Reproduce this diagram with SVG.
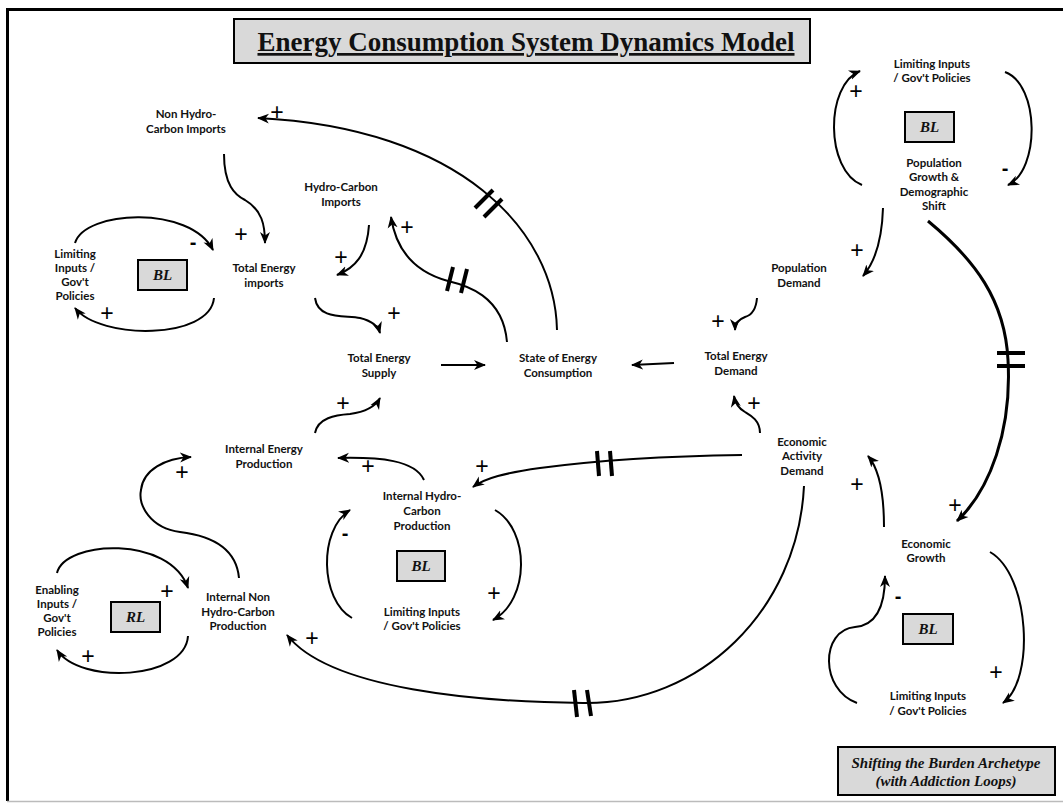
<svg xmlns="http://www.w3.org/2000/svg" width="1063" height="803" viewBox="0 0 1063 803">
  <style>
    .node { font-family: Lato, "Liberation Sans", sans-serif; font-weight: bold; font-size: 11.5px; fill: #111; text-anchor: middle; }
    .sign { font-family: "Liberation Sans", Arial, sans-serif; font-size: 23px; fill: #000; text-anchor: middle; }
    .neg { font-family: "Liberation Sans", Arial, sans-serif; font-weight: bold; font-size: 20px; fill: #000; text-anchor: middle; }
    .tag { fill: #d9d9d9; stroke: #000; stroke-width: 2; }
    .tagtext { font-family: "Liberation Serif", "Times New Roman", "DejaVu Serif", serif; font-style: italic; font-weight: bold; font-size: 15px; fill: #111; text-anchor: middle; }
    .title { font-family: "Liberation Serif", "Times New Roman", "DejaVu Serif", serif; font-weight: 700; font-style: normal; font-size: 27px; fill: #111; text-anchor: middle; text-decoration: underline; }
    .note { font-family: "Liberation Serif", "Times New Roman", "DejaVu Serif", serif; font-style: italic; font-weight: bold; font-size: 15px; fill: #111; text-anchor: middle; }
    .link { fill: none; stroke: #000; stroke-width: 2; marker-end: url(#arrow); }
    .heavy { fill: none; stroke: #000; stroke-width: 3; marker-end: url(#arrow); }
    .delay { stroke: #000; stroke-width: 4; stroke-linecap: butt; }
  </style>
  <defs>
    <marker id="arrow" markerUnits="userSpaceOnUse" markerWidth="12" markerHeight="12" viewBox="0 0 12 12" refX="11" refY="6" orient="auto">
      <path d="M0,1 L12,6 L0,11 L3.5,6 z" fill="#000"/>
    </marker>
  </defs>

  <rect width="1063" height="803" fill="#fff"/>
  <!-- page frame -->
  <line x1="7" y1="9.5" x2="1063" y2="9.5" stroke="#000" stroke-width="3"/>
  <line x1="7.5" y1="8" x2="7.5" y2="801" stroke="#000" stroke-width="3"/>
  <line x1="7" y1="801.5" x2="1063" y2="801.5" stroke="#bbb" stroke-width="1.5"/>

  <!-- title -->
  <g id="title">
    <rect x="234" y="19" width="576" height="44" class="tag"/>
    <text class="title" x="526" y="51">Energy Consumption System Dynamics Model</text>
  </g>

  <!-- connectors -->
  <g id="connectors">
    <path class="link" d="M557,330 C555,230 460,128 258,118"/>
    <path class="link" d="M507,342 C503,295 465,285 448,281 C415,272 396,250 391,217"/>
    <path class="link" d="M224,154 C224,185 235,195 245,200 C262,210 265,225 265,243"/>
    <path class="link" d="M369,225 C367,255 355,268 337,275"/>
    <path class="link" d="M315,298 C318,320 345,315 360,318 C372,321 378,326 380,333"/>
    <path class="link" d="M441,365 L485,365"/>
    <path class="link" d="M674,363 L632,365"/>
    <path class="link" d="M75,243 C85,210 190,205 213,250"/>
    <path class="link" d="M214,298 C210,340 100,340 75,308"/>
    <path class="link" d="M315,433 C318,418 335,415 350,414 C365,412 375,407 380,398"/>
    <path class="link" d="M424,480 C415,460 380,457 338,458"/>
    <path class="link" d="M742,455 C670,456 600,460 540,468 C505,473 485,478 473,487"/>
    <path class="link" d="M804,486 C798,610 700,705 583,703 C480,702 330,690 287,635"/>
    <path class="link" d="M239,578 C236,545 205,535 180,532 C150,528 138,505 141,490 C143,470 165,458 191,457"/>
    <path class="link" d="M57,573 C65,540 170,535 188,588"/>
    <path class="link" d="M188,636 C185,680 80,685 57,650"/>
    <path class="link" d="M352,618 C320,600 318,530 350,510"/>
    <path class="link" d="M495,510 C530,530 530,600 493,620"/>
    <path class="link" d="M884,527 C884,495 880,470 868,456"/>
    <path class="link" d="M760,433 C760,420 750,415 745,412 C738,408 735,402 734,396"/>
    <path class="link" d="M757,298 C756,310 752,315 745,317 C737,320 735,325 735,330"/>
    <path class="link" d="M883,208 C882,240 875,262 863,276"/>
    <path class="link" d="M862,185 C825,170 825,85 860,71"/>
    <path class="link" d="M1005,72 C1040,85 1040,170 1008,185"/>
    <path class="heavy" d="M928,221 C975,260 1005,300 1008,360 C1012,430 990,490 957,521"/>
    <path class="link" d="M990,552 C1030,575 1035,680 1003,703"/>
    <path class="link" d="M857,703 C820,690 820,630 855,627 C880,625 885,600 885,576"/>

    <!-- delay marks -->
    <line class="delay" x1="475" y1="208" x2="493" y2="190"/>
    <line class="delay" x1="484" y1="217" x2="502" y2="199"/>
    <line class="delay" x1="453" y1="267" x2="447" y2="291"/>
    <line class="delay" x1="467" y1="269" x2="461" y2="293"/>
    <line class="delay" x1="597" y1="451" x2="599" y2="476"/>
    <line class="delay" x1="610" y1="451" x2="612" y2="476"/>
    <line class="delay" x1="574" y1="690" x2="577" y2="717"/>
    <line class="delay" x1="587" y1="690" x2="591" y2="716"/>
    <line class="delay" x1="997" y1="353" x2="1025" y2="353"/>
    <line class="delay" x1="997" y1="366" x2="1025" y2="366"/>
  </g>

  <!-- polarity signs -->
  <g id="signs">
    <text class="sign" x="277" y="120">+</text>
    <text class="neg" x="193" y="249">-</text>
    <text class="sign" x="241" y="242">+</text>
    <text class="sign" x="107" y="321">+</text>
    <text class="sign" x="341" y="265">+</text>
    <text class="sign" x="407" y="235">+</text>
    <text class="sign" x="394" y="321">+</text>
    <text class="sign" x="343" y="411">+</text>
    <text class="sign" x="182" y="480">+</text>
    <text class="sign" x="368" y="474">+</text>
    <text class="sign" x="482" y="474">+</text>
    <text class="neg" x="345" y="540">-</text>
    <text class="sign" x="494" y="601">+</text>
    <text class="sign" x="167" y="599">+</text>
    <text class="sign" x="88" y="664">+</text>
    <text class="sign" x="312" y="646">+</text>
    <text class="sign" x="718" y="329">+</text>
    <text class="sign" x="754" y="411">+</text>
    <text class="sign" x="857" y="258">+</text>
    <text class="sign" x="856" y="99">+</text>
    <text class="neg" x="1005" y="175">-</text>
    <text class="sign" x="857" y="492">+</text>
    <text class="sign" x="955" y="513">+</text>
    <text class="neg" x="898" y="603">-</text>
    <text class="sign" x="996" y="680">+</text>
  </g>

  <!-- nodes -->
  <g id="non-hc-imports"><text class="node"><tspan x="186" y="118">Non Hydro-</tspan><tspan x="186" y="133">Carbon Imports</tspan></text></g>
  <g id="hc-imports"><text class="node"><tspan x="341" y="191">Hydro-Carbon</tspan><tspan x="341" y="206">Imports</tspan></text></g>
  <g id="limiting-imports"><text class="node"><tspan x="75" y="258">Limiting</tspan><tspan x="75" y="272">Inputs /</tspan><tspan x="75" y="286">Gov't</tspan><tspan x="75" y="300">Policies</tspan></text></g>
  <g id="bl-imports"><rect class="tag" x="138" y="260" width="49" height="30"/><text class="tagtext" x="162.5" y="280">BL</text></g>
  <g id="total-imports"><text class="node"><tspan x="264" y="272">Total Energy</tspan><tspan x="264" y="287">imports</tspan></text></g>
  <g id="total-supply"><text class="node"><tspan x="379" y="362">Total Energy</tspan><tspan x="379" y="377">Supply</tspan></text></g>
  <g id="state-consumption"><text class="node"><tspan x="558" y="362">State of Energy</tspan><tspan x="558" y="377">Consumption</tspan></text></g>
  <g id="total-demand"><text class="node"><tspan x="736" y="360">Total Energy</tspan><tspan x="736" y="375">Demand</tspan></text></g>
  <g id="population-demand"><text class="node"><tspan x="799" y="272">Population</tspan><tspan x="799" y="287">Demand</tspan></text></g>
  <g id="limiting-population"><text class="node"><tspan x="932" y="68">Limiting Inputs</tspan><tspan x="932" y="82">/ Gov't Policies</tspan></text></g>
  <g id="bl-population"><rect class="tag" x="905" y="112" width="49" height="30"/><text class="tagtext" x="929.5" y="132">BL</text></g>
  <g id="population-growth"><text class="node"><tspan x="934" y="167">Population</tspan><tspan x="934" y="181">Growth &amp;</tspan><tspan x="934" y="196">Demographic</tspan><tspan x="934" y="210">Shift</tspan></text></g>
  <g id="economic-activity"><text class="node"><tspan x="802" y="446">Economic</tspan><tspan x="802" y="460">Activity</tspan><tspan x="802" y="475">Demand</tspan></text></g>
  <g id="economic-growth"><text class="node"><tspan x="926" y="548">Economic</tspan><tspan x="926" y="562">Growth</tspan></text></g>
  <g id="bl-economic"><rect class="tag" x="903" y="614" width="50" height="30"/><text class="tagtext" x="928" y="634">BL</text></g>
  <g id="limiting-economic"><text class="node"><tspan x="928" y="700">Limiting Inputs</tspan><tspan x="928" y="715">/ Gov't Policies</tspan></text></g>
  <g id="internal-energy"><text class="node"><tspan x="264" y="453">Internal Energy</tspan><tspan x="264" y="468">Production</tspan></text></g>
  <g id="internal-hc"><text class="node"><tspan x="422" y="500">Internal Hydro-</tspan><tspan x="422" y="515">Carbon</tspan><tspan x="422" y="530">Production</tspan></text></g>
  <g id="bl-internal-hc"><rect class="tag" x="397" y="551" width="48" height="30"/><text class="tagtext" x="421" y="571">BL</text></g>
  <g id="limiting-internal-hc"><text class="node"><tspan x="422" y="616">Limiting Inputs</tspan><tspan x="422" y="630">/ Gov't Policies</tspan></text></g>
  <g id="internal-non-hc"><text class="node"><tspan x="238" y="601">Internal Non</tspan><tspan x="238" y="616">Hydro-Carbon</tspan><tspan x="238" y="630">Production</tspan></text></g>
  <g id="enabling-inputs"><text class="node"><tspan x="57" y="594">Enabling</tspan><tspan x="57" y="608">Inputs /</tspan><tspan x="57" y="622">Gov't</tspan><tspan x="57" y="636">Policies</tspan></text></g>
  <g id="rl-enabling"><rect class="tag" x="111" y="602" width="49" height="30"/><text class="tagtext" x="135.5" y="622">RL</text></g>

  <!-- archetype note -->
  <g id="archetype-note">
    <rect class="tag" x="838" y="747" width="217" height="48"/>
    <text class="note"><tspan x="946" y="768">Shifting the Burden Archetype</tspan><tspan x="946" y="786">(with Addiction Loops)</tspan></text>
  </g>
</svg>
